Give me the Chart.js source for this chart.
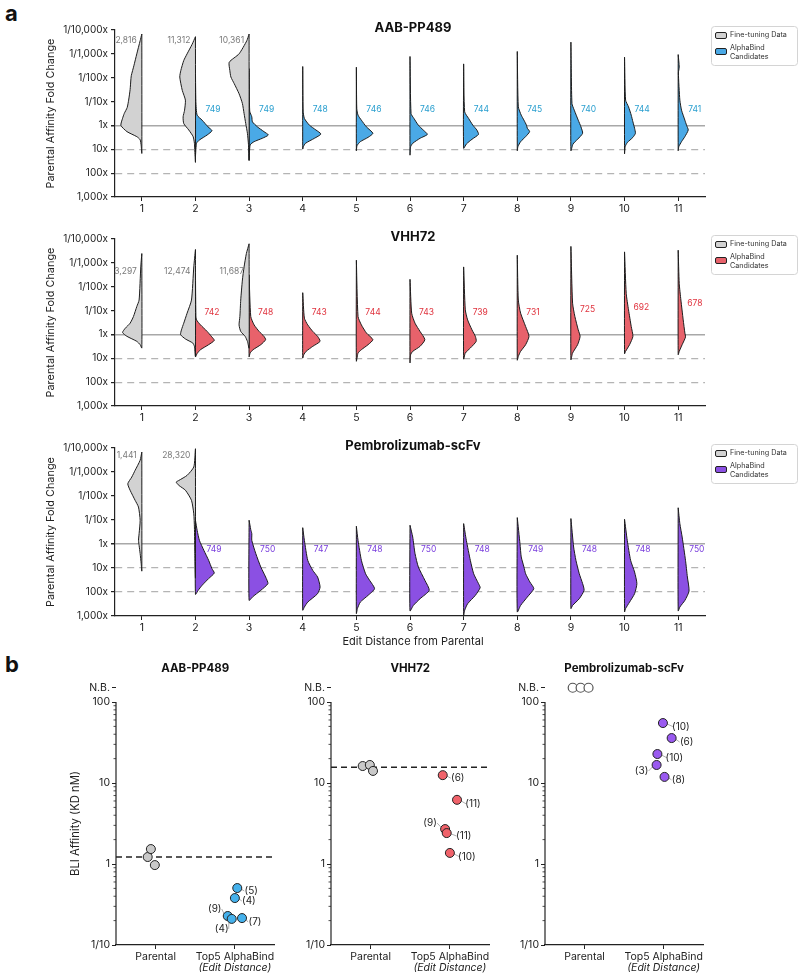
<!DOCTYPE html>
<html>
<head>
<meta charset="utf-8">
<script src="https://cdn.jsdelivr.net/npm/chart.js@4.4.1/dist/chart.umd.min.js"></script>
<style>
  body { margin: 0; background: #fff; }
  #page { position: relative; width: 800px; height: 975px; overflow: hidden; background: #fff; }
  canvas { position: absolute; }
  .tag { position: absolute; font: bold 22px Inter, "DejaVu Sans", sans-serif; color: #111; }
</style>
</head>
<body>
<div id="page">
  <div class="tag" style="left:5px;top:0px">a</div>
  <div class="tag" style="left:5px;top:651px">b</div>
  <canvas id="a1" width="800" height="215" style="left:0;top:0"></canvas>
  <canvas id="a2" width="800" height="210" style="left:0;top:215px"></canvas>
  <canvas id="a3" width="800" height="225" style="left:0;top:425px"></canvas>
  <canvas id="b1" width="280" height="325" style="left:0;top:650px"></canvas>
  <canvas id="b2" width="280" height="325" style="left:215px;top:650px"></canvas>
  <canvas id="b3" width="280" height="325" style="left:429px;top:650px"></canvas>
</div>
<script>
// ---------- data: panel a (violins) ----------
// shapes: [log10 improvement over parental, relative density], top to bottom
const editDistance = [1, 2, 3, 4, 5, 6, 7, 8, 9, 10, 11];
const foldTicks = [1e-4, 1e-3, 1e-2, 1e-1, 1, 10, 100, 1000];

const aabFineX = [1, 2, 3];
const aabFineCounts = [2816, 11312, 10361];
const aabFineShapes = [
  [[3.83,0],[3.55,0.08],[3.0,0.24],[2.5,0.38],[2.1,0.5],[1.96,0.52],[1.5,0.56],[1.06,0.63],[0.75,0.7],[0.5,0.84],[0.3,0.92],[0,1],[-0.26,0.71],[-0.47,0.24],[-0.6,0.08],[-0.85,0.03],[-1.17,0]],
  [[3.72,0],[3.4,0.16],[3.0,0.4],[2.72,0.56],[2.3,0.7],[2.03,0.75],[1.47,0.63],[1.06,0.48],[0.64,0.52],[0.36,0.59],[0.08,0.56],[-0.19,0.32],[-0.47,0.11],[-0.75,0.05],[-1.54,0]],
  [[3.83,0],[3.55,0.11],[3.0,0.48],[2.65,0.95],[2.3,0.92],[2.03,0.87],[1.75,0.71],[1.33,0.48],[0.92,0.32],[0.5,0.24],[0.08,0.16],[-0.33,0.08],[-0.8,0.03],[-1.44,0]]
];
const aabCandX = [2, 3, 4, 5, 6, 7, 8, 9, 10, 11];
const aabCandCounts = [749, 749, 748, 746, 746, 744, 745, 740, 744, 741];
const aabCandShapes = [
  [[2.38,0],[1.0,0.02],[0.43,0.08],[0.22,0.32],[-0.06,0.6],[-0.22,0.79],[-0.4,0.56],[-0.61,0.19],[-0.75,0.05],[-1.28,0]],
  [[2.38,0],[0.6,0.03],[0.36,0.13],[0.15,0.16],[-0.06,0.4],[-0.26,0.71],[-0.4,0.92],[-0.54,0.63],[-0.68,0.24],[-0.82,0.05],[-1.47,0]],
  [[2.47,0],[0.6,0.02],[0.29,0.08],[0.01,0.32],[-0.19,0.63],[-0.36,0.87],[-0.54,0.56],[-0.75,0.13],[-0.89,0.03],[-0.99,0]],
  [[2.44,0],[0.7,0.02],[0.43,0.08],[0.22,0.24],[-0.06,0.48],[-0.33,0.79],[-0.5,0.56],[-0.68,0.19],[-0.85,0.03],[-1.06,0]],
  [[2.89,0],[0.5,0.05],[0.29,0.19],[0.01,0.4],[-0.19,0.63],[-0.375,0.83],[-0.54,0.48],[-0.75,0.13],[-0.89,0.03],[-1.24,0]],
  [[2.58,0],[0.57,0.05],[0.29,0.24],[0.01,0.44],[-0.19,0.63],[-0.375,0.71],[-0.58,0.4],[-0.78,0.13],[-0.96,0]],
  [[3.1,0],[0.78,0.05],[0.43,0.19],[0.22,0.32],[0.01,0.44],[-0.12,0.48],[-0.26,0.59],[-0.47,0.4],[-0.68,0.16],[-0.89,0.03],[-1.06,0]],
  [[3.49,0],[0.92,0.05],[0.64,0.16],[0.22,0.35],[-0.06,0.48],[-0.33,0.56],[-0.58,0.32],[-0.78,0.1],[-1.06,0]],
  [[2.86,0],[1.06,0.05],[0.78,0.19],[0.43,0.32],[0.15,0.4],[-0.12,0.48],[-0.33,0.52],[-0.5,0.4],[-0.72,0.13],[-0.89,0.03],[-1.19,0]],
  [[2.97,0],[2.44,0.05],[2.2,0.01],[1.06,0.08],[0.64,0.16],[0.22,0.32],[0.01,0.4],[-0.19,0.48],[-0.47,0.32],[-0.68,0.16],[-0.89,0.03],[-1.06,0]]
];

const vhhFineX = [1, 2, 3];
const vhhFineCounts = [3297, 12474, 11687];
const vhhFineShapes = [
  [[3.39,0],[2.83,0.05],[1.44,0.13],[1.17,0.24],[0.75,0.4],[0.47,0.56],[0.26,0.79],[0.08,0.92],[-0.08,0.71],[-0.29,0.24],[-0.43,0.08],[-0.57,0]],
  [[3.56,0],[2.83,0.08],[1.44,0.19],[0.89,0.4],[0.47,0.56],[0.19,0.67],[-0.01,0.71],[-0.19,0.48],[-0.36,0.13],[-0.5,0.05],[-0.92,0]],
  [[3.8,0],[3.39,0.13],[2.83,0.24],[2.28,0.32],[1.44,0.4],[0.75,0.44],[0.4,0.48],[0.125,0.4],[-0.08,0.19],[-0.29,0.08],[-0.57,0]]
];
const vhhCandX = [2, 3, 4, 5, 6, 7, 8, 9, 10, 11];
const vhhCandCounts = [742, 748, 743, 744, 743, 739, 731, 725, 692, 678];
const vhhCandShapes = [
  [[2.72,0],[0.8,0.02],[0.61,0.05],[0.4,0.24],[0.125,0.56],[-0.08,0.76],[-0.25,0.9],[-0.43,0.63],[-0.64,0.24],[-0.8,0.08],[-0.94,0]],
  [[2.49,0],[0.75,0.08],[0.4,0.24],[0.125,0.48],[-0.08,0.71],[-0.22,0.79],[-0.43,0.56],[-0.64,0.19],[-0.78,0.05],[-0.94,0]],
  [[1.75,0],[0.68,0.08],[0.4,0.24],[0.125,0.48],[-0.08,0.71],[-0.29,0.83],[-0.5,0.48],[-0.71,0.16],[-0.85,0.05],[-0.99,0]],
  [[3.11,0],[0.75,0.08],[0.4,0.24],[0.06,0.48],[-0.22,0.79],[-0.43,0.56],[-0.64,0.24],[-0.78,0.08],[-1.12,0]],
  [[2.31,0],[0.89,0.08],[0.47,0.24],[0.125,0.48],[-0.22,0.71],[-0.5,0.48],[-0.71,0.13],[-0.85,0.03],[-1.19,0]],
  [[2.83,0],[1.03,0.08],[0.61,0.19],[0.19,0.4],[-0.08,0.56],[-0.29,0.6],[-0.57,0.32],[-0.78,0.08],[-1.03,0]],
  [[3.32,0],[1.44,0.05],[0.89,0.16],[0.33,0.4],[-0.08,0.56],[-0.43,0.4],[-0.71,0.16],[-0.92,0.05],[-1.08,0]],
  [[3.69,0],[1.31,0.08],[0.75,0.19],[0.19,0.35],[-0.08,0.44],[-0.43,0.32],[-0.78,0.08],[-1.06,0]],
  [[3.46,0],[1.72,0.08],[1.03,0.19],[0.33,0.32],[-0.08,0.4],[-0.43,0.24],[-0.71,0.05],[-0.81,0]],
  [[3.53,0],[2.14,0.05],[1.44,0.13],[0.61,0.24],[0.06,0.32],[-0.11,0.35],[-0.43,0.19],[-0.71,0.05],[-0.85,0]]
];

const pemFineX = [1, 2];
const pemFineCounts = [1441, 28320];
const pemFineShapes = [
  [[3.83,0],[3.49,0.08],[3.07,0.32],[2.79,0.48],[2.51,0.67],[2.24,0.56],[1.82,0.32],[1.54,0.16],[0.99,0.08],[0.43,0.13],[0.15,0.16],[-0.06,0.13],[-0.4,0.08],[-0.82,0.03],[-1.125,0]],
  [[3.97,0],[3.21,0.08],[2.86,0.4],[2.65,0.79],[2.58,0.92],[2.44,0.79],[2.24,0.48],[1.82,0.19],[1.26,0.08],[0.71,0.05],[-0.4,0.03],[-1.4,0]]
];
const pemCandX = [2, 3, 4, 5, 6, 7, 8, 9, 10, 11];
const pemCandCounts = [749, 750, 747, 748, 750, 748, 749, 748, 748, 750];
const pemCandShapes = [
  [[0.99,0],[0.57,0.08],[0.15,0.19],[-0.26,0.4],[-0.68,0.63],[-1.03,0.79],[-1.21,0.9],[-1.44,0.63],[-1.72,0.32],[-1.93,0.13],[-2.1,0]],
  [[0.99,0],[0.6,0.08],[0.43,0.13],[0.15,0.13],[-0.4,0.32],[-0.96,0.56],[-1.375,0.79],[-1.65,0.9],[-1.93,0.56],[-2.21,0.16],[-2.35,0]],
  [[0.68,0],[0.15,0.08],[-0.68,0.24],[-1.1,0.48],[-1.375,0.71],[-1.79,0.83],[-2.07,0.71],[-2.42,0.24],[-2.625,0.08],[-2.76,0]],
  [[0.74,0],[0.15,0.08],[-0.68,0.24],[-1.24,0.44],[-1.51,0.63],[-1.86,0.87],[-2.14,0.56],[-2.42,0.19],[-2.69,0.05],[-2.9,0]],
  [[0.78,0],[0.29,0.13],[-0.4,0.24],[-0.96,0.4],[-1.51,0.71],[-1.93,0.92],[-2.28,0.48],[-2.56,0.16],[-2.79,0]],
  [[0.85,0],[0.15,0.13],[-0.68,0.32],[-1.24,0.48],[-1.65,0.71],[-1.82,0.79],[-2.14,0.56],[-2.49,0.19],[-2.76,0.05],[-2.97,0]],
  [[1.1,0],[0.01,0.13],[-0.54,0.19],[-0.96,0.32],[-1.24,0.4],[-1.58,0.6],[-1.86,0.79],[-2.21,0.48],[-2.56,0.16],[-2.83,0]],
  [[1.06,0],[-0.125,0.13],[-0.68,0.24],[-1.24,0.4],[-1.65,0.56],[-1.93,0.63],[-2.28,0.4],[-2.56,0.08],[-2.69,0]],
  [[1.03,0],[0.15,0.13],[-0.68,0.29],[-1.17,0.48],[-1.65,0.59],[-2.07,0.48],[-2.42,0.24],[-2.69,0.05],[-2.83,0]],
  [[1.51,0],[0.85,0.08],[0.29,0.19],[-0.68,0.35],[-1.375,0.44],[-1.96,0.52],[-2.35,0.32],[-2.625,0.08],[-2.79,0]]
];

// ---------- data: panel b (BLI affinity, KD in nM) ----------
const NB = 'N.B.';
const aabParentalKd = [1.22, 1.53, 0.97];
const aabTop5Kd = [0.505, 0.38, 0.228, 0.21, 0.215];
const aabTop5Edit = [5, 4, 9, 4, 7];
const vhhParentalKd = [16.2, 16.7, 14.1];
const vhhTop5Kd = [12.5, 6.2, 2.7, 2.41, 1.37];
const vhhTop5Edit = [6, 11, 9, 11, 10];
const pemParentalKd = [NB, NB, NB];
const pemTop5Kd = [55, 35.9, 22.8, 16.7, 11.9];
const pemTop5Edit = [10, 6, 10, 3, 8];

// ---------- layout ----------
const HALF_WIDTH = 0.39;     // x units for relative density 1
const NB_LEVEL = 150;        // where non-binders sit on the KD axis
const aabParJitter = [-0.1, -0.06, -0.01];
const aabTopJitter = [0.03, 0, -0.09, -0.04, 0.09];
const aabLabelOff = [[14, 3], [14, 3], [-13, -7], [-10, 10], [13, 4]];
const vhhParJitter = [-0.1, -0.01, 0.03];
const vhhTopJitter = [-0.09, 0.09, -0.06, -0.04, 0];
const vhhLabelOff = [[15, 3], [16, 4], [-15, -6], [17, 3], [17, 4]];
const pemParJitter = [-0.15, -0.05, 0.05];
const pemTopJitter = [-0.01, 0.1, -0.08, -0.09, 0.01];
const pemLabelOff = [[18, 4], [15, 4], [17, 4], [-15, 6], [14, 3]];

const FONT = 'Inter, "DejaVu Sans", sans-serif';
const FINE_FILL = '#d2d2d2';
Chart.defaults.font.family = FONT;
Chart.defaults.color = '#222';

const fmt = n => n.toLocaleString('en-US');
const toFold = u => Math.pow(10, -u);
const foldLabel = v => v < 1 ? '1/' + fmt(Math.round(1 / v)) + 'x' : fmt(v) + 'x';

function violin(xc, shape, side, fill) {
  const pts = shape.map(([u, d]) => ({ x: xc + side * d * HALF_WIDTH, y: toFold(u) }));
  pts.push({ x: xc, y: toFold(shape[0][0]) });
  return {
    data: pts, showLine: true, fill: 'shape', backgroundColor: fill,
    borderColor: '#1c1c1c', borderWidth: 1, pointRadius: 0, tension: 0.2
  };
}

function swatch(ctx, x, y, fill) {
  ctx.beginPath();
  ctx.roundRect(x + 0.5, y + 0.5, 11, 6, 1.5);
  ctx.fillStyle = fill; ctx.fill();
  ctx.strokeStyle = '#222'; ctx.lineWidth = 1; ctx.stroke();
}

// pick a font size so that text spans the given width
function fitFont(ctx, text, width, weight) {
  ctx.font = weight + ' 10px ' + FONT;
  const size = 10 * width / ctx.measureText(text).width;
  ctx.font = weight + ' ' + size.toFixed(2) + 'px ' + FONT;
}

function violinDecor(cfg) {
  return {
    id: 'violinDecor',
    afterDraw(chart) {
      const { ctx, chartArea: a, scales: { x, y } } = chart;
      ctx.save();
      ctx.textBaseline = 'middle';
      // title
      ctx.fillStyle = '#111';
      ctx.font = 'bold 13px ' + FONT;
      ctx.textAlign = 'center';
      ctx.fillText(cfg.title, (a.left + a.right) / 2 + 3, a.top - 2);
      // counts
      ctx.font = '8.5px ' + FONT;
      ctx.fillStyle = '#7a7a7a';
      ctx.textAlign = 'right';
      cfg.fineX.forEach((c, i) => {
        ctx.fillText(fmt(cfg.fineCounts[i]), x.getPixelForValue(c) - 5, y.getPixelForValue(toFold(cfg.fineLabelAt)));
      });
      ctx.fillStyle = cfg.text;
      ctx.textAlign = 'left';
      cfg.candX.forEach((c, i) => {
        const lv = Array.isArray(cfg.candLabelAt) ? cfg.candLabelAt[i] : cfg.candLabelAt;
        ctx.fillText(fmt(cfg.candCounts[i]), x.getPixelForValue(c) + cfg.labelGap, y.getPixelForValue(toFold(lv)));
      });
      // legend
      const top = a.top - 4;
      ctx.beginPath();
      ctx.roundRect(711.5, top + 0.5, 86, 39, 3);
      ctx.fillStyle = '#fff'; ctx.fill();
      ctx.strokeStyle = '#d4d4d4'; ctx.lineWidth = 1; ctx.stroke();
      swatch(ctx, 715, top + 6, FINE_FILL);
      swatch(ctx, 715, top + 22, cfg.fill);
      ctx.fillStyle = '#333';
      fitFont(ctx, 'Fine-tuning Data', 57, 'normal');
      ctx.textAlign = 'left';
      ctx.fillText('Fine-tuning Data', 730, top + 9);
      ctx.fillText('AlphaBind', 730, top + 21.5);
      ctx.fillText('Candidates', 730, top + 30.5);
      // axis titles
      if (cfg.xTitle) {
        ctx.fillStyle = '#222';
        ctx.font = '11px ' + FONT;
        ctx.textAlign = 'center';
        ctx.fillText(cfg.xTitle, (a.left + a.right) / 2 + 3, a.bottom + 26);
      }
      ctx.translate(51, (a.top + a.bottom) / 2);
      ctx.rotate(-Math.PI / 2);
      ctx.fillStyle = '#222';
      fitFont(ctx, 'Parental Affinity Fold Change', 150, 'normal');
      ctx.textAlign = 'center';
      ctx.fillText('Parental Affinity Fold Change', 0, 0);
      ctx.restore();
    }
  };
}

function violinChart(id, cfg) {
  const datasets = [];
  cfg.fineX.forEach((c, i) => datasets.push(violin(c, cfg.fineShapes[i], -1, FINE_FILL)));
  cfg.candX.forEach((c, i) => datasets.push(violin(c, cfg.candShapes[i], 1, cfg.fill)));
  new Chart(document.getElementById(id), {
    type: 'scatter',
    data: { datasets },
    options: {
      responsive: false, animation: false, events: [],
      layout: { padding: { top: cfg.padTop, right: 95, left: 0, bottom: 0 } },
      plugins: { legend: { display: false }, tooltip: { enabled: false } },
      scales: {
        x: {
          type: 'linear', min: 0.5, max: 11.5,
          afterBuildTicks: s => { s.ticks = editDistance.map(v => ({ value: v })); },
          afterFit: s => { s.height = cfg.xHeight; },
          grid: { drawOnChartArea: false, tickLength: 4, tickColor: '#222' },
          border: { color: '#222', width: 1.2 },
          ticks: { color: '#222', font: { size: 10.5 }, padding: 2, maxRotation: 0, autoSkip: false }
        },
        y: {
          type: 'logarithmic', reverse: true, min: 1e-4, max: 1e3,
          afterBuildTicks: s => { s.ticks = foldTicks.map(v => ({ value: v })); },
          afterFit: s => { s.width = 115; },
          ticks: { callback: v => foldLabel(v), color: '#222', font: { size: 10 }, padding: 3, autoSkip: false },
          grid: {
            color: c => c.tick && c.tick.value === 1 ? '#a8a8a8' : (c.tick && (c.tick.value === 10 || c.tick.value === 100) ? '#b4b4b4' : 'rgba(0,0,0,0)'),
            lineWidth: c => c.tick && c.tick.value === 1 ? 1.5 : 1.2,
            tickLength: 4, tickColor: '#222'
          },
          border: {
            color: '#222', width: 1.2,
            dash: c => c.tick && (c.tick.value === 10 || c.tick.value === 100) ? [7, 5] : []
          }
        }
      }
    },
    plugins: [violinDecor(cfg)]
  });
}

violinChart('a1', {
  title: 'AAB-PP489', padTop: 30, xHeight: 18, fill: '#4aa9e6', text: '#2a9fcf', labelGap: 10,
  fineX: aabFineX, fineCounts: aabFineCounts, fineShapes: aabFineShapes, fineLabelAt: 3.55,
  candX: aabCandX, candCounts: aabCandCounts, candShapes: aabCandShapes, candLabelAt: 0.65
});
violinChart('a2', {
  title: 'VHH72', padTop: 24, xHeight: 19, fill: '#e8626b', text: '#e0343f', labelGap: 9,
  fineX: vhhFineX, fineCounts: vhhFineCounts, fineShapes: vhhFineShapes, fineLabelAt: 2.62,
  candX: vhhCandX, candCounts: vhhCandCounts, candShapes: vhhCandShapes,
  candLabelAt: [0.93, 0.93, 0.93, 0.93, 0.93, 0.93, 0.93, 1.03, 1.13, 1.28]
});
violinChart('a3', {
  title: 'Pembrolizumab-scFv', padTop: 23, xHeight: 34, fill: '#8b50e3', text: '#7a3fdd', labelGap: 11,
  fineX: pemFineX, fineCounts: pemFineCounts, fineShapes: pemFineShapes, fineLabelAt: 3.69,
  candX: pemCandX, candCounts: pemCandCounts, candShapes: pemCandShapes, candLabelAt: -0.24,
  xTitle: 'Edit Distance from Parental'
});

// ---------- panel b ----------
function bliDecor(cfg) {
  return {
    id: 'bliDecor',
    beforeDatasetsDraw(chart) {
      const { ctx, scales: { x, y } } = chart;
      ctx.save();
      ctx.strokeStyle = '#9a9a9a';
      ctx.lineWidth = 0.8;
      cfg.top5.forEach((v, i) => {
        const px = x.getPixelForValue(1 + cfg.topJitter[i]);
        const py = y.getPixelForValue(v);
        const [dx, dy] = cfg.labelOff[i];
        const len = Math.hypot(dx, dy);
        ctx.beginPath();
        ctx.moveTo(px + dx / len * 4, py + dy / len * 4);
        ctx.lineTo(px + dx - Math.sign(dx) * 7, py + dy);
        ctx.stroke();
      });
      ctx.restore();
    },
    afterDraw(chart) {
      const { ctx, chartArea: a, scales: { x, y } } = chart;
      ctx.save();
      ctx.textBaseline = 'middle';
      ctx.textAlign = 'center';
      ctx.fillStyle = '#111';
      ctx.font = 'bold 11.5px ' + FONT;
      ctx.fillText(cfg.title, (a.left + a.right) / 2, a.top - 11);
      // y spine from 100 down, with minor ticks
      const y100 = y.getPixelForValue(100);
      ctx.strokeStyle = '#222';
      ctx.lineWidth = 1.2;
      ctx.beginPath();
      ctx.moveTo(a.left, y100);
      ctx.lineTo(a.left, a.bottom);
      ctx.stroke();
      ctx.lineWidth = 0.8;
      for (let d = 0.1; d < 100; d *= 10) {
        for (let k = 2; k <= 9; k++) {
          const py = y.getPixelForValue(k * d);
          ctx.beginPath();
          ctx.moveTo(a.left - 2.5, py);
          ctx.lineTo(a.left, py);
          ctx.stroke();
        }
      }
      // edit distance labels
      ctx.fillStyle = '#222';
      ctx.font = '10px ' + FONT;
      cfg.top5.forEach((v, i) => {
        const px = x.getPixelForValue(1 + cfg.topJitter[i]);
        const py = y.getPixelForValue(v);
        const [dx, dy] = cfg.labelOff[i];
        ctx.fillText('(' + cfg.edit[i] + ')', px + dx, py + dy);
      });
      ctx.font = 'italic 10.5px ' + FONT;
      ctx.fillText('(Edit Distance)', x.getPixelForValue(1), a.bottom + 23);
      if (cfg.yTitle) {
        ctx.translate(76, (y100 + a.bottom) / 2);
        ctx.rotate(-Math.PI / 2);
        fitFont(ctx, cfg.yTitle, 105, 'normal');
        ctx.fillText(cfg.yTitle, 0, 0);
      }
      ctx.restore();
    }
  };
}

function bliChart(id, cfg) {
  const datasets = [
    {
      data: cfg.parental.map((v, i) => ({ x: cfg.parJitter[i], y: v === NB ? NB_LEVEL : v })),
      backgroundColor: cfg.parental[0] === NB ? '#fff' : '#c9c9c9',
      borderColor: cfg.parental[0] === NB ? '#555' : '#222',
      borderWidth: cfg.parental[0] === NB ? 1.2 : 1, pointRadius: 4.5, order: 1
    },
    {
      data: cfg.top5.map((v, i) => ({ x: 1 + cfg.topJitter[i], y: v })),
      backgroundColor: cfg.fill, borderColor: '#222', borderWidth: 1, pointRadius: 4.5, order: 0
    }
  ];
  if (cfg.parental[0] !== NB) {
    const gm = Math.exp(cfg.parental.reduce((s, v) => s + Math.log(v), 0) / cfg.parental.length);
    datasets.push({
      data: [{ x: -0.5, y: gm }, { x: 1.5, y: gm }], showLine: true, borderColor: '#222',
      borderWidth: 1.5, borderDash: [6, 4], pointRadius: 0, order: 2
    });
  }
  new Chart(document.getElementById(id), {
    type: 'scatter',
    data: { datasets },
    options: {
      responsive: false, animation: false, events: [],
      layout: { padding: { top: 30, right: 5, left: 0, bottom: 0 } },
      plugins: { legend: { display: false }, tooltip: { enabled: false } },
      scales: {
        x: {
          type: 'linear', min: -0.5, max: 1.5,
          afterBuildTicks: s => { s.ticks = [{ value: 0 }, { value: 1 }]; },
          afterFit: s => { s.height = 30; },
          ticks: { callback: v => v === 0 ? 'Parental' : 'Top5 AlphaBind', color: '#222', font: { size: 10.5 }, padding: 2, maxRotation: 0, autoSkip: false },
          grid: { drawOnChartArea: false, tickLength: 4, tickColor: '#222' },
          border: { color: '#222', width: 1.2 }
        },
        y: {
          type: 'logarithmic', min: 0.1, max: 187,
          afterBuildTicks: s => { s.ticks = [0.1, 1, 10, 100, NB_LEVEL].map(v => ({ value: v })); },
          afterFit: s => { s.width = 116; },
          ticks: {
            callback: v => v === NB_LEVEL ? 'N.B.' : (v === 0.1 ? '1/10' : String(v)),
            color: '#222', font: { size: 10.5 }, padding: 2, autoSkip: false
          },
          grid: { drawOnChartArea: false, tickLength: 4, tickColor: '#222' },
          border: { display: false }
        }
      }
    },
    plugins: [bliDecor(cfg)]
  });
}

bliChart('b1', {
  title: 'AAB-PP489', fill: '#45b1ec', yTitle: 'BLI Affinity (KD nM)',
  parental: aabParentalKd, top5: aabTop5Kd, edit: aabTop5Edit,
  parJitter: aabParJitter, topJitter: aabTopJitter, labelOff: aabLabelOff
});
bliChart('b2', {
  title: 'VHH72', fill: '#f0626a',
  parental: vhhParentalKd, top5: vhhTop5Kd, edit: vhhTop5Edit,
  parJitter: vhhParJitter, topJitter: vhhTopJitter, labelOff: vhhLabelOff
});
bliChart('b3', {
  title: 'Pembrolizumab-scFv', fill: '#9a5af0',
  parental: pemParentalKd, top5: pemTop5Kd, edit: pemTop5Edit,
  parJitter: pemParJitter, topJitter: pemTopJitter, labelOff: pemLabelOff
});
</script>
</body>
</html>
